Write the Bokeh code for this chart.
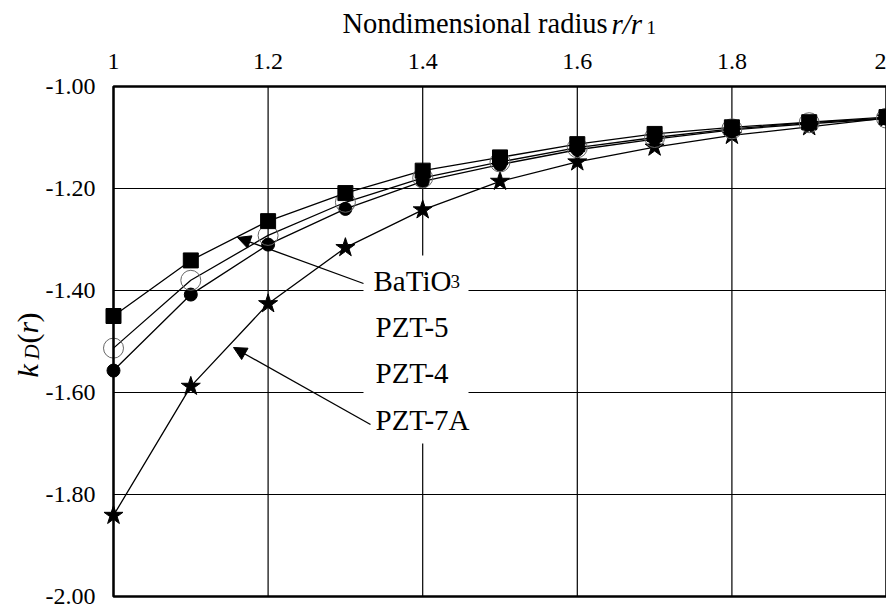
import math
from bokeh.plotting import figure
from bokeh.models import (Range1d, FixedTicker, NumeralTickFormatter, Label,
                          Arrow, NormalHead, BoxAnnotation, LinearAxis)
from bokeh.embed import file_html
from bokeh.resources import INLINE

# ---------------- data ----------------
r_vals = [1.0, 1.1, 1.2, 1.3, 1.4, 1.5, 1.6, 1.7, 1.8, 1.9, 2.0]
batio3 = [-1.450, -1.341, -1.264, -1.209, -1.165, -1.139, -1.113, -1.093, -1.080, -1.070, -1.060]
pzt5 = [-1.513, -1.380, -1.292, -1.227, -1.179, -1.148, -1.120, -1.100, -1.083, -1.071, -1.062]
pzt4 = [-1.557, -1.408, -1.310, -1.240, -1.186, -1.153, -1.124, -1.103, -1.085, -1.073, -1.063]
pzt7a = [-1.841, -1.588, -1.426, -1.316, -1.242, -1.186, -1.148, -1.119, -1.096, -1.079, -1.062]
series_names = ["BaTiO3", "PZT-5", "PZT-4", "PZT-7A"]
x_ticks = [1.0, 1.2, 1.4, 1.6, 1.8, 2.0]
y_ticks = [-2.0, -1.8, -1.6, -1.4, -1.2, -1.0]

FONT = "Liberation Serif"
W, H = 886, 609
# pixel layout of the data box (canvas pixels)
X0_PX, X1_PX = 113.0, 886.0      # x = 1 and x = 2
Y0_PX, Y1_PX = 86.0, 596.0       # y = -1 and y = -2
SX = (X1_PX - X0_PX) / (x_ticks[-1] - x_ticks[0])
SY = (Y1_PX - Y0_PX) / (y_ticks[-1] - y_ticks[0])
FIX = 10  # baseline correction for Label text (px)

def dx(px):
    return x_ticks[0] + (px - X0_PX) / SX

def dy(py):
    return y_ticks[-1] - (py - Y0_PX) / SY

p = figure(width=W, height=H, output_backend="svg", toolbar_location=None,
           x_range=Range1d(dx(0), x_ticks[-1]), y_range=Range1d(dy(H), dy(0)),
           x_axis_type=None, y_axis_type=None,
           min_border_left=0, min_border_right=0, min_border_top=0,
           min_border_bottom=0, background_fill_color="white",
           border_fill_color="white")
p.outline_line_color = None
p.xgrid.visible = False
p.ygrid.visible = False

xax = LinearAxis(fixed_location=y_ticks[-1], ticker=FixedTicker(ticks=x_ticks),
                 formatter=NumeralTickFormatter(format="0.[0]"))
yax = LinearAxis(fixed_location=x_ticks[0], ticker=FixedTicker(ticks=y_ticks),
                 formatter=NumeralTickFormatter(format="0.00"))
for ax in (xax, yax):
    ax.axis_line_color = None
    ax.major_tick_in = 0
    ax.major_tick_out = 0
    ax.minor_tick_in = 0
    ax.minor_tick_out = 0
    ax.major_label_text_font = FONT
    ax.major_label_text_font_size = "24px"
    ax.major_label_text_color = "black"
    ax.major_label_standoff = 18
p.add_layout(xax, "above")
p.add_layout(yax, "left")

# ---------------- grid (at the tick values) ----------------
p.segment(x0=x_ticks, y0=[y_ticks[0]] * len(x_ticks), x1=x_ticks,
          y1=[y_ticks[-1]] * len(x_ticks), line_color="black", line_width=1.2,
          level="underlay")
p.segment(x0=[x_ticks[0]] * len(y_ticks), y0=y_ticks, x1=[x_ticks[-1]] * len(y_ticks),
          y1=y_ticks, line_color="black", line_width=1.2, level="underlay")

# white box behind the series labels
p.add_layout(BoxAnnotation(left=dx(363), right=dx(468), top=dy(255), bottom=dy(443),
                           fill_color="white", fill_alpha=1.0, line_color=None))

# ---------------- series ----------------
lw = 1.3
p.line(r_vals, pzt7a, line_color="black", line_width=lw)
p.line(r_vals, pzt4, line_color="black", line_width=lw)
p.line(r_vals, pzt5, line_color="black", line_width=lw)
p.line(r_vals, batio3, line_color="black", line_width=lw)

p.scatter(r_vals, pzt7a, marker="star", size=20, fill_color="black", line_color="black")
p.scatter(r_vals, pzt4, marker="circle", size=13, fill_color="black", line_color="black")
p.scatter(r_vals, pzt5, marker="circle", size=20, fill_color=None, line_color="#666666",
          line_width=1)
p.scatter(r_vals, batio3, marker="square", size=15, fill_color="black", line_color="black")

# plot border
p.add_layout(BoxAnnotation(left=x_ticks[0], right=x_ticks[-1], bottom=y_ticks[0],
                           top=y_ticks[-1], fill_color=None, fill_alpha=0,
                           line_color="black", line_width=2.5, line_alpha=1.0))

# ---------------- arrows ----------------
p.add_layout(Arrow(end=NormalHead(size=13, fill_color="black", line_color="black"),
                   x_start=dx(363), y_start=dy(283), x_end=dx(237), y_end=dy(237),
                   line_color="black", line_width=1.3))
p.add_layout(Arrow(end=NormalHead(size=13, fill_color="black", line_color="black"),
                   x_start=dx(370), y_start=dy(424), x_end=dx(233), y_end=dy(347),
                   line_color="black", line_width=1.3))

# ---------------- labels ----------------
def lab(px, py, text, size, style="normal", rotated=False, xoff=0):
    if rotated:
        px, angle = px - FIX, math.pi / 2
    else:
        py, angle = py - FIX, 0.0
    p.add_layout(Label(x=dx(px), y=dy(py), text=text, text_font=FONT,
                       text_font_size=size, text_font_style=style, text_color="black",
                       text_align="left", text_baseline="alphabetic", angle=angle,
                       x_offset=xoff))

lab(373, 290, series_names[0][:-1], "29px")
lab(373, 291, series_names[0][-1], "19px", xoff=77)
lab(375, 336.7, series_names[1], "29px")
lab(375, 382.7, series_names[2], "29px")
lab(375, 429, series_names[3], "29px")

# axis titles
lab(342, 33, "Nondimensional radius", "28.5px")
lab(611, 33, "r/r", "29px", "italic")
lab(646, 37, "1", "19px")

lab(37, 377, "k", "30px", "italic", True)
lab(41, 359, "D", "21px", "italic", True)
lab(37, 343, "(", "30px", "normal", True)
lab(37, 333, "r", "30px", "italic", True)
lab(37, 322, ")", "30px", "normal", True)

open("out.html", "w").write(file_html(p, INLINE))
